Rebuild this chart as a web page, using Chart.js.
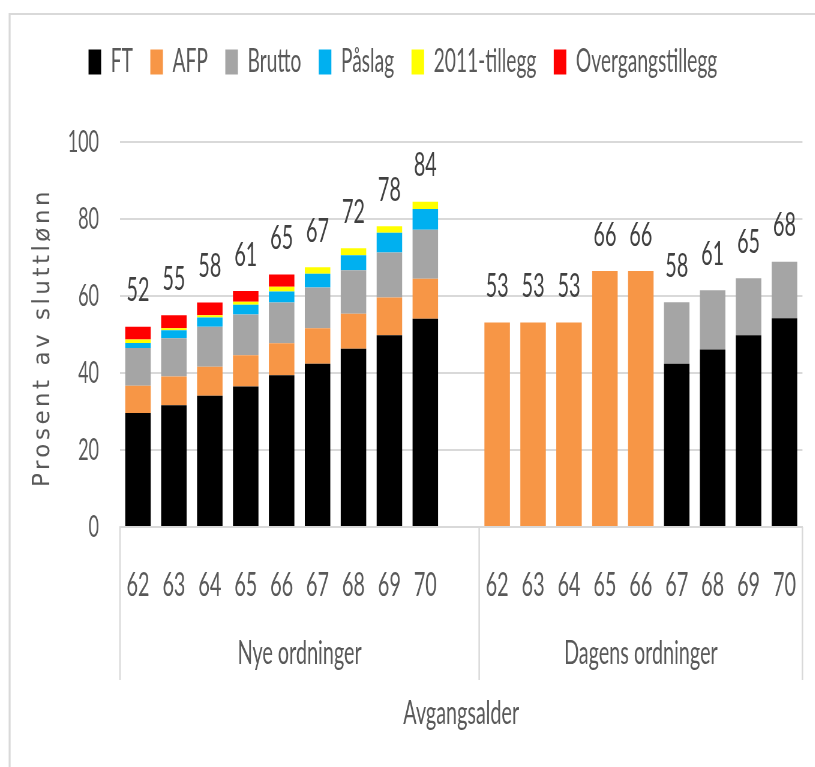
<!DOCTYPE html>
<html>
<head>
<meta charset="utf-8">
<script src="https://cdn.jsdelivr.net/npm/chart.js@4.4.1/dist/chart.umd.min.js"></script>
<style>
  html, body { margin: 0; padding: 0; background: #fff; overflow: hidden; }
  #frame { width: 815px; height: 767px; overflow: hidden; }
  /* the source chart is squeezed sideways, so draw wide and squeeze it back */
  #squeeze { width: 1358px; height: 767px; transform: scaleX(0.6); transform-origin: 0 0; }
</style>
</head>
<body>
<div id="frame"><div id="squeeze"><canvas id="pensjonChart" width="1358" height="767"></canvas></div></div>
<script>
const SQUEEZE = 0.6;

// categories: ages for both groups, with one empty slot between them
const ages = ['62', '63', '64', '65', '66', '67', '68', '69', '70', '',
              '62', '63', '64', '65', '66', '67', '68', '69', '70'];
const groupNames = ['Nye ordninger', 'Dagens ordninger'];
const yTicks = [0, 20, 40, 60, 80, 100];

// series (percent of final salary)
const ftValues      = [29.6, 31.6, 34.1, 36.5, 39.4, 42.4, 46.3, 49.8, 54.1, null, 0, 0, 0, 0, 0, 42.4, 46.1, 49.8, 54.2];
const afpValues     = [7.1, 7.5, 7.5, 8.1, 8.3, 9.2, 9.1, 9.8, 10.4, null, 53.1, 53.1, 53.1, 66.5, 66.5, 0, 0, 0, 0];
const bruttoValues  = [9.8, 9.9, 10.4, 10.6, 10.6, 10.6, 11.3, 11.7, 12.7, null, 0, 0, 0, 0, 0, 16.0, 15.4, 14.8, 14.7];
const paslagValues  = [1.3, 2.1, 2.4, 2.5, 2.9, 3.6, 3.9, 5.1, 5.4, null, 0, 0, 0, 0, 0, 0, 0, 0, 0];
const t2011Values   = [0.9, 0.5, 0.6, 0.8, 1.2, 1.7, 1.8, 1.7, 1.9, null, 0, 0, 0, 0, 0, 0, 0, 0, 0];
const overgValues   = [3.3, 3.4, 3.3, 2.8, 3.2, 0, 0, 0, 0, null, 0, 0, 0, 0, 0, 0, 0, 0, 0];

// totals printed above the bars
const totalLabels = [52, 55, 58, 61, 65, 67, 72, 78, 84, null, 53, 53, 53, 66, 66, 58, 61, 65, 68];

const textGrey = '#595959';
const lineGrey = '#d9d9d9';

// legend sits in a fixed band above the plot
const legendBand = {
  id: 'legendBand',
  beforeInit(chart) {
    const fit = chart.legend.fit;
    chart.legend.fit = function () {
      fit.bind(chart.legend)();
      this.height = 125;
    };
  }
};

// totals, frame, group separators and titles
const decorations = {
  id: 'decorations',
  afterDatasetsDraw(chart) {
    const ctx = chart.ctx;
    const xs = chart.scales.x, ys = chart.scales.y;
    ctx.save();
    ctx.font = '33px Lato';
    ctx.fillStyle = '#404040';
    ctx.textAlign = 'center';
    ctx.textBaseline = 'middle';
    totalLabels.forEach((t, i) => {
      if (t == null) return;
      let sum = 0;
      chart.data.datasets.forEach(ds => { sum += ds.data[i] || 0; });
      ctx.fillText(String(t), xs.getPixelForValue(i), ys.getPixelForValue(sum) - 36);
    });
    ctx.restore();
  },
  afterDraw(chart) {
    const ctx = chart.ctx;
    const area = chart.chartArea;
    const xs = chart.scales.x;
    ctx.save();

    // outer frame (top and left)
    ctx.strokeStyle = lineGrey;
    ctx.lineWidth = 3.3;
    ctx.beginPath(); ctx.moveTo(16, chart.height); ctx.lineTo(16, 13); ctx.stroke();
    ctx.lineWidth = 2;
    ctx.beginPath(); ctx.moveTo(15, 14); ctx.lineTo(chart.width, 14); ctx.stroke();

    // group dividers below the axis
    const split = (xs.getPixelForValue(9) + xs.getPixelForValue(10)) / 2;
    ctx.lineWidth = 2.5;
    [area.left, split, area.right].forEach(px => {
      ctx.beginPath(); ctx.moveTo(px, area.bottom); ctx.lineTo(px, 680); ctx.stroke();
    });

    // group names
    ctx.fillStyle = textGrey;
    ctx.font = '33px Lato';
    ctx.textAlign = 'center';
    ctx.textBaseline = 'middle';
    ctx.fillText(groupNames[0], (area.left + split) / 2, 653);
    ctx.fillText(groupNames[1], (split + area.right) / 2, 653);

    // x axis title
    ctx.fillText('Avgangsalder', (area.left + area.right) / 2, 713);

    // y axis title, drawn unsqueezed
    ctx.translate(43 / SQUEEZE, (area.top + area.bottom) / 2 + 3);
    ctx.scale(1 / SQUEEZE, 1);
    ctx.rotate(-Math.PI / 2);
    ctx.font = '23px "DejaVu Sans"';
    if ('letterSpacing' in ctx) ctx.letterSpacing = '3.5px';
    ctx.fillText('Prosent av sluttlønn', 0, 0);
    ctx.restore();
  }
};

const seriesStyle = (label, data, color) => ({
  label: label,
  data: data,
  backgroundColor: color,
  borderWidth: 0,
  barPercentage: 0.71,
  categoryPercentage: 1
});

const ctx = document.getElementById('pensjonChart').getContext('2d');
new Chart(ctx, {
  type: 'bar',
  data: {
    labels: ages,
    datasets: [
      seriesStyle('FT', ftValues, '#000000'),
      seriesStyle('AFP', afpValues, '#f79646'),
      seriesStyle('Brutto', bruttoValues, '#a5a5a5'),
      seriesStyle('Påslag', paslagValues, '#00b0f0'),
      seriesStyle('2011-tillegg', t2011Values, '#ffff00'),
      seriesStyle('Overgangstillegg', overgValues, '#ff0000')
    ]
  },
  options: {
    responsive: false,
    animation: false,
    devicePixelRatio: 1,
    layout: { padding: { top: 17, left: 0, right: 15, bottom: 0 } },
    plugins: {
      legend: {
        position: 'top',
        labels: {
          boxWidth: 21,
          boxHeight: 25,
          padding: 29,
          color: textGrey,
          font: { family: 'Lato', size: 32 }
        }
      },
      tooltip: { enabled: false }
    },
    scales: {
      x: {
        stacked: true,
        grid: { display: false },
        border: { display: true, color: lineGrey, width: 2 },
        ticks: {
          color: textGrey,
          font: { family: 'Lato', size: 33 },
          padding: 31,
          maxRotation: 0,
          autoSkip: false
        },
        afterFit(scale) { scale.height = 240; }
      },
      y: {
        stacked: true,
        min: 0,
        max: 100,
        grid: { color: lineGrey, lineWidth: 2, drawTicks: false },
        border: { display: false },
        ticks: {
          stepSize: 20,
          color: textGrey,
          padding: 35,
          font: { family: 'Lato', size: 30 },
          callback: v => yTicks.includes(v) ? String(v) : ''
        },
        afterFit(scale) { scale.width = 200; }
      }
    }
  },
  plugins: [legendBand, decorations]
});
</script>
</body>
</html>
